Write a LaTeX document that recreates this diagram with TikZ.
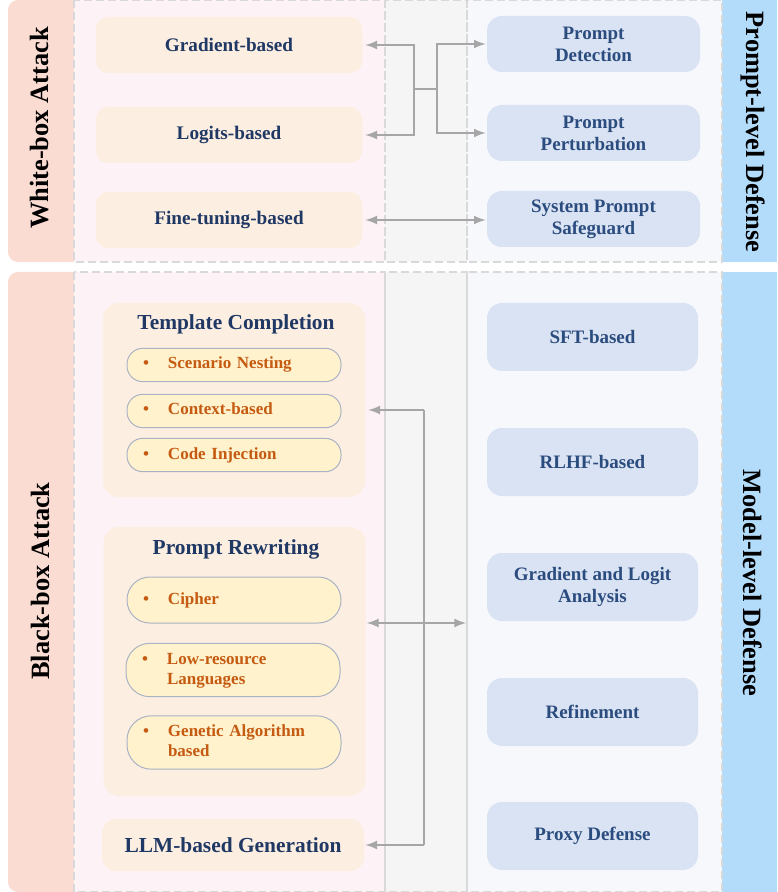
\documentclass[tikz,border=0pt]{standalone}
\usepackage{fontspec}
\setmainfont{Liberation Serif}
\usetikzlibrary{arrows,calc,positioning}

\definecolor{salmon}{HTML}{FBDCD2}
\definecolor{pinkbg}{HTML}{FDF2F5}
\definecolor{graybg}{HTML}{F5F5F5}
\definecolor{whitebg}{HTML}{F7F8FC}
\definecolor{skyblue}{HTML}{B3DCFB}
\definecolor{dashgray}{HTML}{D9D9D9}
\definecolor{peach}{HTML}{FDEEE2}
\definecolor{paleblue}{HTML}{DAE3F3}
\definecolor{pillfill}{HTML}{FFF2CC}
\definecolor{pillline}{HTML}{A9B3C3}
\definecolor{navy}{HTML}{1F3864}
\definecolor{steel}{HTML}{2B4C7E}
\definecolor{rust}{HTML}{C55A11}
\definecolor{linkgray}{HTML}{A6A6A6}

\newcommand{\pitem}[1]{\makebox[12.5pt][l]{\textbullet}\begin{tabular}[t]{@{}l@{}}#1\end{tabular}}

\begin{document}
\begin{tikzpicture}[x=0.5pt,y=-0.5pt,font=\bfseries,
  panel/.style={draw=dashgray,dash pattern=on 4pt off 2pt,line width=0.7pt},
  atk/.style={rectangle,rounded corners=6pt,fill=peach,text=navy,minimum width=133pt,minimum height=28pt,font=\fontsize{9.6}{11}\selectfont\bfseries},
  dfn/.style={rectangle,rounded corners=7.5pt,fill=paleblue,text=steel,align=center,minimum width=106.5pt,font=\fontsize{9.5}{11}\selectfont\bfseries},
  grp/.style={rectangle,rounded corners=8pt,fill=peach,minimum width=131pt},
  grptitle/.style={text=navy,font=\fontsize{10.7}{12}\selectfont\bfseries},
  pill/.style={rectangle,rounded corners=7.9pt,draw=pillline,line width=0.5pt,fill=pillfill,text=rust,minimum width=107pt,text width=91pt,inner xsep=8pt,align=left,font=\fontsize{8.5}{10}\selectfont\bfseries},
  side/.style={font=\fontsize{13.2}{15}\selectfont\bfseries},
  link/.style={draw=linkgray,line width=1pt},
]
\useasboundingbox (0,0) rectangle (777,892);
%bands
\foreach \ya/\yb in {0/262,272/892}{
  \fill[salmon,rounded corners=5pt] (8,\ya) rectangle (90,\yb);
  \fill[pinkbg] (74,\ya) rectangle (385,\yb);
  \fill[graybg] (385,\ya) rectangle (467,\yb);
  \fill[whitebg] (467,\ya) rectangle (722,\yb);
  \fill[skyblue] (722,\ya) rectangle (777,\yb);
  \draw[panel] (74,\ya) rectangle (385,\yb);
  \draw[panel] (385,\ya) rectangle (467,\yb);
  \draw[panel] (467,\ya) rectangle (722,\yb);
}
%side titles
\node[side,rotate=90] (wba) at (40,128) {White-box Attack};
\node[side,rotate=90] (bba) at (40,581) {Black-box Attack};
\node[side,rotate=-90] (pld) at (753,132) {Prompt-level Defense};
\node[side,rotate=-90] (mld) at (753,583) {Model-level Defense};
%white-box attacks
\node[atk] (grad) at (229,45) {Gradient-based};
\node[atk] (logit) at (229,135) {Logits-based};
\node[atk] (ftune) at (229,220) {Fine-tuning-based};
%prompt-level defenses
\node[dfn,minimum height=28pt] (pdet) at (593.5,44) {Prompt\\Detection};
\node[dfn,minimum height=28pt] (ppert) at (593.5,133) {Prompt\\Perturbation};
\node[dfn,minimum height=28pt] (sysp) at (593.5,219) {System Prompt\\Safeguard};
%black-box attacks
\node[grp,minimum height=97pt] (tmpl) at (234,400) {};
\node[grptitle] (tmpl title) at (236,324) {Template Completion};
\node[pill,minimum height=16pt] (scen) at (234,365) {\pitem{Scenario Nesting}};
\node[pill,minimum height=16pt] (ctx) at (234,411) {\pitem{Context-based}};
\node[pill,minimum height=16pt] (code) at (234,455) {\pitem{Code Injection}};
\node[grp,minimum height=134.5pt] (rewr) at (234.5,661.5) {};
\node[grptitle] (rewr title) at (236,549) {Prompt Rewriting};
\node[pill,minimum height=23pt,rounded corners=11.4pt] (ciph) at (234,600) {\pitem{Cipher}};
\node[pill,minimum height=24pt,rounded corners=11.9pt] (lowres) at (233,670) {\pitem{Low-resource\\Languages}};
\node[pill,minimum height=24.5pt,rounded corners=12.1pt] (genet) at (234,742.5) {\pitem{Genetic Algorithm\\based}};
\node[grp,minimum height=26pt,rounded corners=7pt,text=navy,font=\fontsize{10.7}{12}\selectfont\bfseries] (llm) at (233,845) {LLM-based Generation};
%model-level defenses
\foreach \y/\name/\txt in {337/sft/SFT-based,462/rlhf/RLHF-based,587/gla/{Gradient and Logit\\Analysis},712/refine/Refinement,836/proxy/Proxy Defense}
  \node[dfn,minimum width=105.5pt,minimum height=34pt] (\name) at (592.5,\y) {\txt};
%links, top
\coordinate (jl) at (414,89);
\coordinate (jr) at (437,89);
\draw[link] (jl) -- (jr);
\draw[link,-latex,shorten >=1.5pt] (jl) |- (grad.east);
\draw[link,-latex,shorten >=1.5pt] (jl) |- (logit.east);
\draw[link,-latex,shorten >=0.5pt] (jr) |- (pdet.west);
\draw[link,-latex,shorten >=0.5pt] (jr) |- (ppert.west);
\draw[link,latex-latex,shorten <=1.5pt,shorten >=0.5pt] (ftune.east) -- (ftune.east -| sysp.west);
%links, bottom
\coordinate (bustop) at (424,410);
\coordinate (busbot) at (424,845);
\coordinate (mdl) at (466,623);
\draw[link] (bustop) -- (busbot);
\draw[link,-latex,shorten >=1.5pt] (bustop) -- (bustop -| tmpl.east);
\draw[link,-latex,shorten >=0.5pt] (busbot) -- (busbot -| llm.east);
\draw[link,latex-latex,shorten <=0.5pt] (mdl -| rewr.east) -- (mdl);
\end{tikzpicture}
\end{document}
